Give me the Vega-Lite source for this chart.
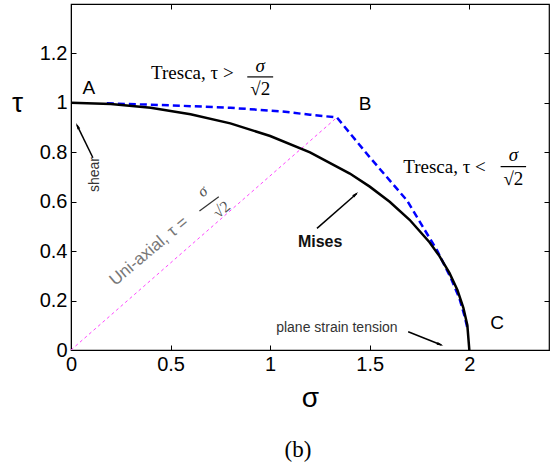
{
  "$schema": "https://vega.github.io/schema/vega-lite/v6.json",
  "autosize": {"type": "none"},
  "padding": {"left": 71, "top": 4, "right": 7, "bottom": 115},
  "width": 478,
  "height": 346,
  "background": "white",
  "title": {"text": "(b)", "orient": "bottom", "font": "Liberation Serif", "fontSize": 23, "fontWeight": "normal", "color": "black", "offset": 27, "dx": -12},
  "config": {
    "view": {"stroke": "black", "strokeWidth": 1.2},
    "axis": {"grid": false, "domainColor": "black", "tickColor": "black", "tickSize": -5, "labelPadding": 9, "labelFont": "Liberation Sans", "labelFontSize": 20, "labelColor": "black", "titleColor": "black", "titleFont": "Liberation Sans", "titleFontWeight": "normal", "labelFlush": false}
  },
  "datasets": {
    "mises": [
      {"s": 0.0, "t": 1.0}, {"s": 0.2, "t": 0.995}, {"s": 0.4, "t": 0.98}, {"s": 0.6, "t": 0.954},
      {"s": 0.8, "t": 0.917}, {"s": 1.0, "t": 0.866}, {"s": 1.2, "t": 0.8}, {"s": 1.4, "t": 0.714},
      {"s": 1.5, "t": 0.661}, {"s": 1.6, "t": 0.6}, {"s": 1.7, "t": 0.527}, {"s": 1.8, "t": 0.436},
      {"s": 1.85, "t": 0.38}, {"s": 1.9, "t": 0.312}, {"s": 1.94, "t": 0.243}, {"s": 1.97, "t": 0.171},
      {"s": 1.99, "t": 0.1}, {"s": 2.0, "t": 0.0}
    ],
    "tresca": [
      {"s": 0.18, "t": 0.998}, {"s": 0.5, "t": 0.99}, {"s": 0.8, "t": 0.98}, {"s": 1.05, "t": 0.966},
      {"s": 1.2, "t": 0.952}, {"s": 1.335, "t": 0.941}, {"s": 1.5, "t": 0.78}, {"s": 1.687, "t": 0.605},
      {"s": 1.838, "t": 0.403}, {"s": 1.905, "t": 0.295}, {"s": 1.95, "t": 0.21}, {"s": 1.975, "t": 0.14},
      {"s": 1.99, "t": 0.09}
    ],
    "uni": [{"s": 0.0, "t": 0.0}, {"s": 1.335, "t": 0.941}],
    "segments": [
      {"kind": "arrow", "s": 0.11, "t": 0.778, "s2": 0.03, "t2": 0.91},
      {"kind": "arrow", "s": 1.235, "t": 0.492, "s2": 1.435, "t2": 0.633},
      {"kind": "arrow", "s": 1.693, "t": 0.074, "s2": 1.86, "t2": 0.02},
      {"kind": "bar", "s": 0.885, "t": 1.105, "s2": 1.015, "t2": 1.105},
      {"kind": "bar", "s": 2.157, "t": 0.742, "s2": 2.285, "t2": 0.742},
      {"kind": "unibar", "s": 0.645, "t": 0.562, "s2": 0.742, "t2": 0.62}
    ]
  },
  "encoding": {
    "x": {"field": "s", "type": "quantitative", "scale": {"domain": [0, 2.4], "nice": false, "zero": false}, "axis": null},
    "y": {"field": "t", "type": "quantitative", "scale": {"domain": [0, 1.4], "nice": false, "zero": false}, "axis": null}
  },
  "layer": [
    {
      "data": {"name": "uni"},
      "mark": {"type": "line", "color": "#ff44ff", "strokeWidth": 1, "strokeDash": [3, 3]},
      "encoding": {
        "x": {"field": "s", "type": "quantitative", "scale": {"domain": [0, 2.4], "nice": false, "zero": false},
              "axis": {"orient": "top", "labels": false, "title": null, "values": [0, 0.5, 1, 1.5, 2], "domain": false}},
        "y": {"field": "t", "type": "quantitative", "scale": {"domain": [0, 1.4], "nice": false, "zero": false},
              "axis": {"orient": "right", "labels": false, "title": null, "values": [0, 0.2, 0.4, 0.6, 0.8, 1, 1.2], "domain": false}}
      }
    },
    {
      "data": {"name": "tresca"},
      "mark": {"type": "line", "color": "#0000ff", "strokeWidth": 2.5, "strokeDash": [7, 4]},
      "encoding": {}
    },
    {
      "data": {"name": "mises"},
      "mark": {"type": "line", "color": "black", "strokeWidth": 2.5},
      "encoding": {
        "x": {"field": "s", "type": "quantitative", "scale": {"domain": [0, 2.4], "nice": false, "zero": false},
              "axis": {"orient": "bottom", "title": "σ", "titleFontSize": 28, "titlePadding": 10, "values": [0, 0.5, 1, 1.5, 2], "format": "~g"}},
        "y": {"field": "t", "type": "quantitative", "scale": {"domain": [0, 1.4], "nice": false, "zero": false},
              "axis": {"orient": "left", "title": "τ", "titleFontSize": 28, "titleAngle": 0, "titleX": -54, "titleY": 99, "titleBaseline": "middle", "titleAlign": "center", "values": [0, 0.2, 0.4, 0.6, 0.8, 1, 1.2], "format": "~g"}}
      }
    },
    {
      "data": {"name": "segments"},
      "transform": [{"filter": "datum.kind === 'arrow'"}],
      "mark": {"type": "rule", "color": "black", "strokeWidth": 1.5},
      "encoding": {"x2": {"field": "s2"}, "y2": {"field": "t2"}}
    },
    {
      "data": {"name": "segments"},
      "transform": [{"filter": "datum.kind === 'bar'"}],
      "mark": {"type": "rule", "color": "black", "strokeWidth": 1.2},
      "encoding": {"x2": {"field": "s2"}, "y2": {"field": "t2"}}
    },
    {
      "data": {"name": "segments"},
      "transform": [{"filter": "datum.kind === 'unibar'"}],
      "mark": {"type": "rule", "color": "#333333", "strokeWidth": 1.2},
      "encoding": {"x2": {"field": "s2"}, "y2": {"field": "t2"}}
    },
    {
      "data": {"values": [{"s": 0.025, "t": 0.919}]},
      "mark": {"type": "point", "shape": "M0,0L0.5,2.2L-0.5,2.2Z", "filled": true, "color": "black", "size": 36, "angle": 334, "opacity": 1},
      "encoding": {}
    },
    {
      "data": {"values": [{"s": 1.442, "t": 0.639}]},
      "mark": {"type": "point", "shape": "M0,0L0.5,2.2L-0.5,2.2Z", "filled": true, "color": "black", "size": 36, "angle": 49, "opacity": 1},
      "encoding": {}
    },
    {
      "data": {"values": [{"s": 1.869, "t": 0.017}]},
      "mark": {"type": "point", "shape": "M0,0L0.5,2.2L-0.5,2.2Z", "filled": true, "color": "black", "size": 36, "angle": 112, "opacity": 1},
      "encoding": {}
    },
    {
      "data": {"values": [{"s": 0.402, "t": 1.097, "label": "Tresca, τ >"}, {"s": 1.668, "t": 0.718, "label": "Tresca, τ <"}]},
      "mark": {"type": "text", "font": "Liberation Serif", "fontSize": 19, "align": "left", "baseline": "alphabetic", "color": "black"},
      "encoding": {"text": {"field": "label"}}
    },
    {
      "data": {"values": [{"s": 0.95, "t": 1.15, "label": "σ"}, {"s": 2.221, "t": 0.787, "label": "σ"}]},
      "mark": {"type": "text", "font": "Liberation Serif", "fontSize": 19, "fontStyle": "italic", "align": "center", "baseline": "middle", "color": "black"},
      "encoding": {"text": {"field": "label"}}
    },
    {
      "data": {"values": [{"s": 0.95, "t": 1.056, "label": "√2"}, {"s": 2.221, "t": 0.691, "label": "√2"}]},
      "mark": {"type": "text", "font": "Liberation Serif", "fontSize": 19, "align": "center", "baseline": "middle", "color": "black"},
      "encoding": {"text": {"field": "label"}}
    },
    {
      "data": {"values": [{"s": 0.09, "t": 1.06, "label": "A"}, {"s": 1.477, "t": 0.996, "label": "B"}, {"s": 2.14, "t": 0.109, "label": "C"}]},
      "mark": {"type": "text", "font": "Liberation Sans", "fontSize": 19, "align": "center", "baseline": "middle", "color": "black"},
      "encoding": {"text": {"field": "label"}}
    },
    {
      "data": {"values": [{"s": 1.251, "t": 0.437, "label": "Mises"}]},
      "mark": {"type": "text", "font": "Liberation Sans", "fontSize": 16, "fontWeight": "bold", "align": "center", "baseline": "middle", "color": "#111111"},
      "encoding": {"text": {"field": "label"}}
    },
    {
      "data": {"values": [{"s": 1.335, "t": 0.088, "label": "plane strain tension"}]},
      "mark": {"type": "text", "font": "Liberation Sans", "fontSize": 14, "align": "center", "baseline": "middle", "color": "#333333"},
      "encoding": {"text": {"field": "label"}}
    },
    {
      "data": {"values": [{"s": 0.12, "t": 0.71, "label": "shear"}]},
      "mark": {"type": "text", "font": "Liberation Sans", "fontSize": 14, "align": "center", "baseline": "middle", "angle": 270, "color": "#333333"},
      "encoding": {"text": {"field": "label"}}
    },
    {
      "data": {"values": [{"s": 0.392, "t": 0.4, "label": "Uni-axial, τ ="}]},
      "mark": {"type": "text", "font": "Liberation Sans", "fontSize": 17, "align": "center", "baseline": "middle", "angle": 320, "color": "#777777"},
      "encoding": {"text": {"field": "label"}}
    },
    {
      "data": {"values": [{"s": 0.66, "t": 0.642, "label": "σ"}]},
      "mark": {"type": "text", "font": "Liberation Serif", "fontSize": 16, "fontStyle": "italic", "align": "center", "baseline": "middle", "angle": 320, "color": "#555555"},
      "encoding": {"text": {"field": "label"}}
    },
    {
      "data": {"values": [{"s": 0.757, "t": 0.568, "label": "√2"}]},
      "mark": {"type": "text", "font": "Liberation Serif", "fontSize": 16, "align": "center", "baseline": "middle", "angle": 320, "color": "#555555"},
      "encoding": {"text": {"field": "label"}}
    }
  ]
}
